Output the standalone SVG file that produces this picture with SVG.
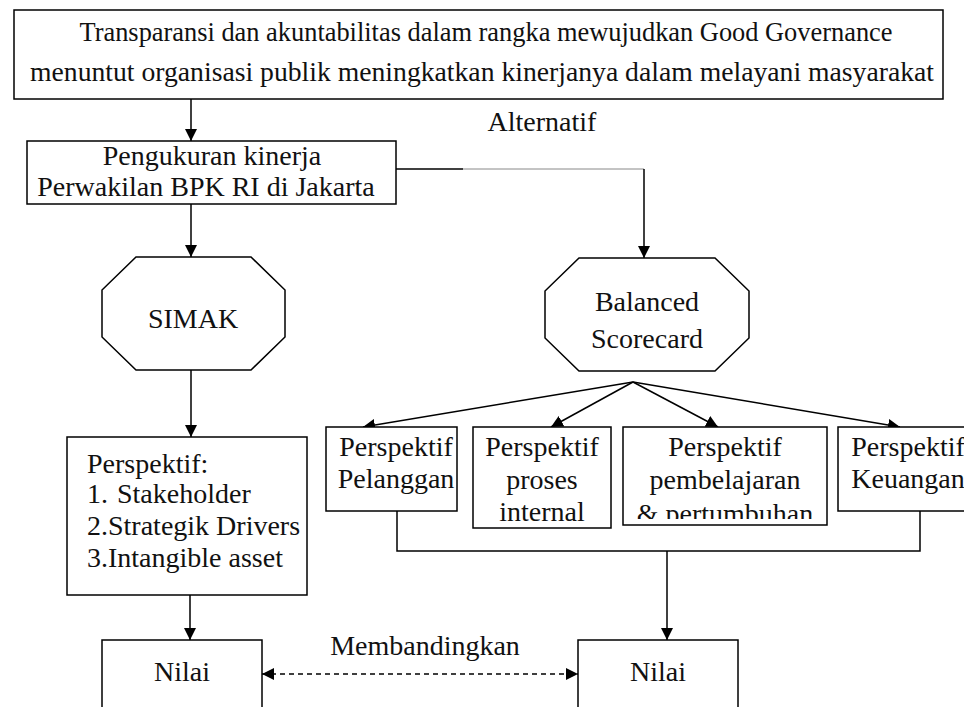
<svg xmlns="http://www.w3.org/2000/svg" width="964" height="707" viewBox="0 0 964 707">
<defs>
<style>
.box{fill:#fff;stroke:#000;stroke-width:1.5}
.t{font-family:"Liberation Serif","Times New Roman",serif;font-size:28px;fill:#111}
.c{text-anchor:middle}
.ln{fill:none;stroke:#000;stroke-width:1.5}
.ar{marker-end:url(#ah)}
</style>
<marker id="ah" markerWidth="12" markerHeight="12" refX="12" refY="6" orient="auto-start-reverse" markerUnits="userSpaceOnUse"><path d="M0,0 L12,6 L0,12 z" fill="#000"/></marker>
<clipPath id="clipPb"><rect x="623" y="427" width="204" height="92"/></clipPath>
</defs>
<rect width="964" height="707" fill="#fff"/>
<g id="connectors">
<path class="ln ar" d="M191,99 V141"/>
<path class="ln" d="M396,169 H463"/>
<path d="M463,169 H644" fill="none" stroke="#888" stroke-width="1"/>
<path class="ln ar" d="M644,169 V258"/>
<path class="ln ar" d="M191,204 V257"/>
<path class="ln ar" d="M191,370 V437"/>
<path class="ln ar" d="M633,382 L363,427"/>
<path class="ln ar" d="M633,382 L551,427"/>
<path class="ln ar" d="M633,382 L718,427"/>
<path class="ln ar" d="M633,382 L900,427"/>
<path class="ln" d="M397,511 V551 H920 V511"/>
<path class="ln ar" d="M667,551 V640"/>
<path class="ln ar" d="M190,595 V640"/>
<path class="ln" d="M262,674 H578" stroke-dasharray="5,4" marker-start="url(#ah)" marker-end="url(#ah)"/>
<text class="t c" x="542" y="131" font-size="29">Alternatif</text>
<text class="t c" x="425" y="655" font-size="30">Membandingkan</text>
</g>
<g id="top">
<rect class="box" x="14" y="10" width="929" height="89"/>
<text class="t c" x="486" y="41" font-size="27" textLength="813" lengthAdjust="spacingAndGlyphs">Transparansi dan akuntabilitas dalam rangka mewujudkan Good Governance</text>
<text class="t c" x="482" y="81" font-size="27" textLength="904" lengthAdjust="spacingAndGlyphs">menuntut organisasi publik meningkatkan kinerjanya dalam melayani masyarakat</text>
</g>
<g id="pengukuran">
<rect class="box" x="27" y="141" width="369" height="63"/>
<text class="t c" x="212" y="165">Pengukuran kinerja</text>
<text class="t c" x="206" y="196">Perwakilan BPK RI di Jakarta</text>
</g>
<g id="simak">
<polygon class="box" points="136,257 251,257 285,290 285,337 251,370 136,370 102,337 102,290"/>
<text class="t c" x="193" y="328" font-size="30">SIMAK</text>
</g>
<g id="bsc">
<polygon class="box" points="579,258 715,258 749,291 749,338 715,371 579,371 545,338 545,291"/>
<text class="t c" x="647" y="311" font-size="30">Balanced</text>
<text class="t c" x="647" y="348" font-size="30">Scorecard</text>
</g>
<g id="simak-perspektif">
<rect class="box" x="67" y="437" width="240" height="158"/>
<text class="t" x="87" y="473">Perspektif:</text>
<text class="t" y="503"><tspan x="87">1.</tspan><tspan x="117">Stakeholder</tspan></text>
<text class="t" y="535"><tspan x="87">2.</tspan><tspan x="108">Strategik Drivers</tspan></text>
<text class="t" y="567"><tspan x="87">3.</tspan><tspan x="108">Intangible asset</tspan></text>
</g>
<g id="pelanggan">
<rect class="box" x="326" y="427" width="131" height="84"/>
<text class="t c" x="396" y="456">Perspektif</text>
<text class="t c" x="396" y="488">Pelanggan</text>
</g>
<g id="proses">
<rect class="box" x="473" y="427" width="138" height="101"/>
<text class="t c" x="542" y="456">Perspektif</text>
<text class="t c" x="542" y="489">proses</text>
<text class="t c" x="542" y="521">internal</text>
</g>
<g id="pembelajaran">
<rect class="box" x="623" y="427" width="204" height="98"/>
<text class="t c" x="725" y="456">Perspektif</text>
<text class="t c" x="725" y="489">pembelajaran</text>
<text class="t c" x="725" y="523" clip-path="url(#clipPb)">&amp; pertumbuhan</text>
</g>
<g id="keuangan">
<rect class="box" x="838" y="427" width="140" height="84"/>
<text class="t c" x="908" y="456">Perspektif</text>
<text class="t c" x="908" y="488">Keuangan</text>
</g>
<g id="nilai-left">
<rect class="box" x="102" y="640" width="160" height="80"/>
<text class="t c" x="182" y="681" font-size="30">Nilai</text>
</g>
<g id="nilai-right">
<rect class="box" x="578" y="640" width="160" height="80"/>
<text class="t c" x="658" y="681" font-size="30">Nilai</text>
</g>
</svg>
